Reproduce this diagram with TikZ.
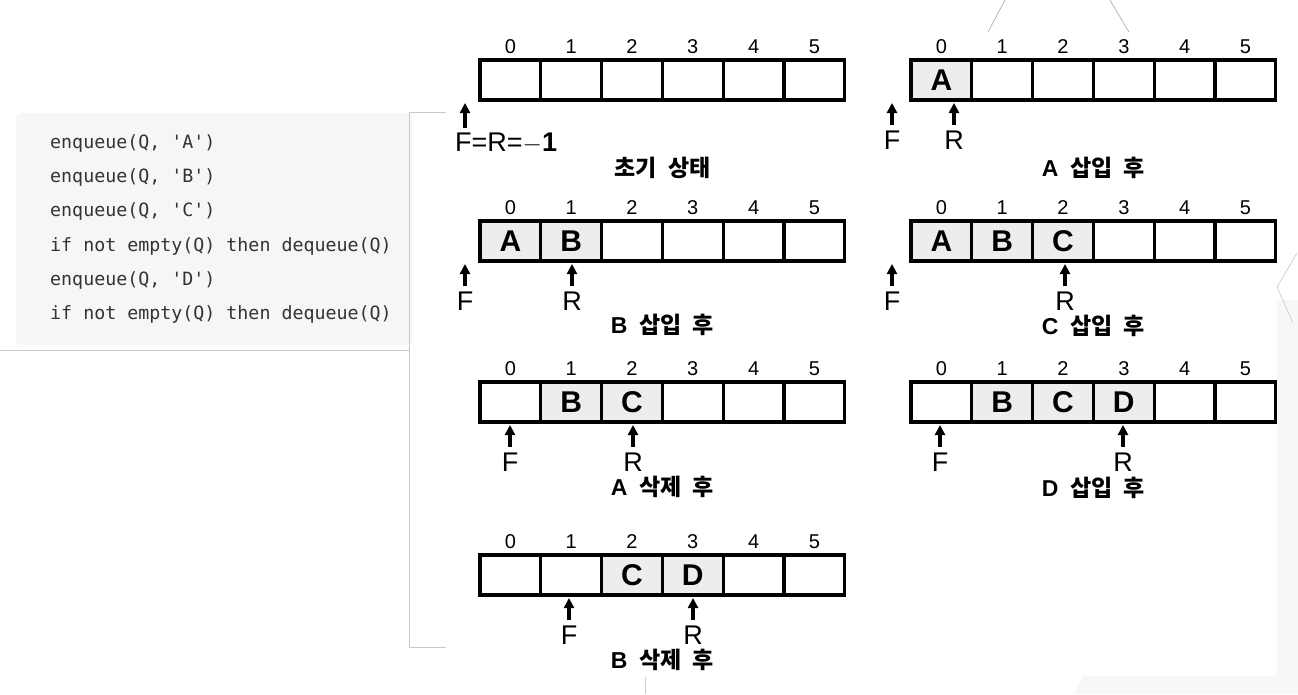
\documentclass[tikz,border=0pt]{standalone}
\usepackage{fontspec}
\setmainfont{Liberation Sans}
\newfontfamily\kr{Noto Sans CJK KR}
\newfontfamily\codefont{DejaVu Sans Mono}
\usetikzlibrary{arrows.meta}
\definecolor{cellgray}{HTML}{EDEDED}
\definecolor{codebg}{HTML}{F6F6F6}
\definecolor{codefg}{HTML}{333333}
\definecolor{rulegray}{HTML}{C8C8C8}
\definecolor{faint}{HTML}{F7F7F7}
\newcommand\qarray[4]{%
  \foreach \i/\t/\f in {#4} {
    \node[cellbox, fill=\f] (#1-\i) at ({#2+30.4+60.8*\i}, {#3+20}) {\t};
    \node[idx] (#1-i\i) at ({#2+30.4+60.8*\i}, {#3-13.5}) {\i};
  }%
}
\newcommand\qptr[4]{%
  \node[ptrlabel] (#1) at (#2, {#3+40}) {#4};
  \coordinate (#1-tip) at (#2, {#3+3});
  \draw[ptr] ([yshift=6pt]#1.north) -- (#1-tip);
}
\newcommand\wsp{\hspace{0.5em}}
\begin{document}
\begin{tikzpicture}[x=1pt,y=-1pt,
  cellbox/.style={draw=black, line width=3.2pt, minimum width=60.8pt, minimum height=40pt,
    inner sep=0pt, outer sep=0pt, font=\fontsize{30}{30}\selectfont\bfseries},
  idx/.style={inner sep=0pt, font=\fontsize{20}{20}\selectfont},
  ptrlabel/.style={inner sep=0pt, font=\fontsize{27}{27}\selectfont},
  ptr/.style={line width=3.2pt, -{Triangle[length=10pt,width=10pt]}},
  caption/.style={inner sep=0pt, font=\fontsize{23}{23}\selectfont\bfseries},
  codeline/.style={anchor=west, inner sep=0pt, text=codefg, font=\codefont\fontsize{18.3}{18.3}\selectfont},
  rule/.style={draw=rulegray, line width=1pt}
]
\useasboundingbox (0,0) rectangle (1298,694);
\fill[white] (0,0) rectangle (1298,694);

% faint screenshot background artifacts
\fill[faint] (1277,300) -- (1298,300) -- (1298,694) -- (1277,694) -- cycle;
\fill[faint] (1083,676) -- (1298,676) -- (1298,694) -- (1074,694) -- cycle;
\draw[draw=gray!60, line width=0.7pt] (1005,0) -- (988,32);
\draw[draw=gray!60, line width=0.7pt] (1110,0) -- (1129,32);
\draw[draw=gray!40, line width=0.7pt] (1297,253) -- (1277,287) -- (1293,323);
\draw[draw=gray!40, line width=0.7pt] (645,677) -- (645,694);

% code box
\fill[codebg, rounded corners=6pt] (16,113) rectangle (412,345);
\node[codeline] (c1) at (50,143) {enqueue(Q, 'A')};
\node[codeline] (c2) at (50,177) {enqueue(Q, 'B')};
\node[codeline] (c3) at (50,211) {enqueue(Q, 'C')};
\node[codeline] (c4) at (50,246) {if not empty(Q) then dequeue(Q)};
\node[codeline] (c5) at (50,280) {enqueue(Q, 'D')};
\node[codeline] (c6) at (50,314) {if not empty(Q) then dequeue(Q)};
\draw[rule] (0,350) -- (409,350);
\draw[rule] (446,112) -- (409,112) -- (409,647) -- (446,647);

% Row 1 left: initial state
\qarray{a}{480}{60}{0//white,1//white,2//white,3//white,4//white,5//white}
\node[ptrlabel, anchor=west] (aFR) at (455,143) {F=R=$-$\textbf{1}};
\coordinate (aFR-tail) at (465,128);
\coordinate (aFR-tip) at (465,103);
\draw[ptr] (aFR-tail) -- (aFR-tip);
\node[caption] (acap) at (662.5,168) {\kr 초기\wsp 상태};

% Row 1 right: A inserted
\qarray{b}{911}{60}{0/A/cellgray,1//white,2//white,3//white,4//white,5//white}
\qptr{bF}{892}{100}{F}
\qptr{bR}{954}{100}{R}
\node[caption] (bcap) at (1093.5,168) {A\wsp{\kr 삽입\wsp 후}};

% Row 2 left: B inserted
\qarray{c}{480}{221}{0/A/cellgray,1/B/cellgray,2//white,3//white,4//white,5//white}
\qptr{cF}{465}{261}{F}
\qptr{cR}{572}{261}{R}
\node[caption] (ccap) at (662.5,325) {B\wsp{\kr 삽입\wsp 후}};

% Row 2 right: C inserted
\qarray{d}{911}{221}{0/A/cellgray,1/B/cellgray,2/C/cellgray,3//white,4//white,5//white}
\qptr{dF}{892}{261}{F}
\qptr{dR}{1065}{261}{R}
\node[caption] (dcap) at (1093.5,326) {C\wsp{\kr 삽입\wsp 후}};

% Row 3 left: A deleted
\qarray{e}{480}{382}{0//white,1/B/cellgray,2/C/cellgray,3//white,4//white,5//white}
\qptr{eF}{510}{422}{F}
\qptr{eR}{633}{422}{R}
\node[caption] (ecap) at (662.5,487) {A\wsp{\kr 삭제\wsp 후}};

% Row 3 right: D inserted
\qarray{f}{911}{382}{0//white,1/B/cellgray,2/C/cellgray,3/D/cellgray,4//white,5//white}
\qptr{fF}{940}{422}{F}
\qptr{fR}{1123}{422}{R}
\node[caption] (fcap) at (1093.5,488) {D\wsp{\kr 삽입\wsp 후}};

% Row 4 left: B deleted
\qarray{g}{480}{555}{0//white,1//white,2/C/cellgray,3/D/cellgray,4//white,5//white}
\qptr{gF}{569}{595}{F}
\qptr{gR}{693}{595}{R}
\node[caption] (gcap) at (662.5,660) {B\wsp{\kr 삭제\wsp 후}};
\end{tikzpicture}
\end{document}
